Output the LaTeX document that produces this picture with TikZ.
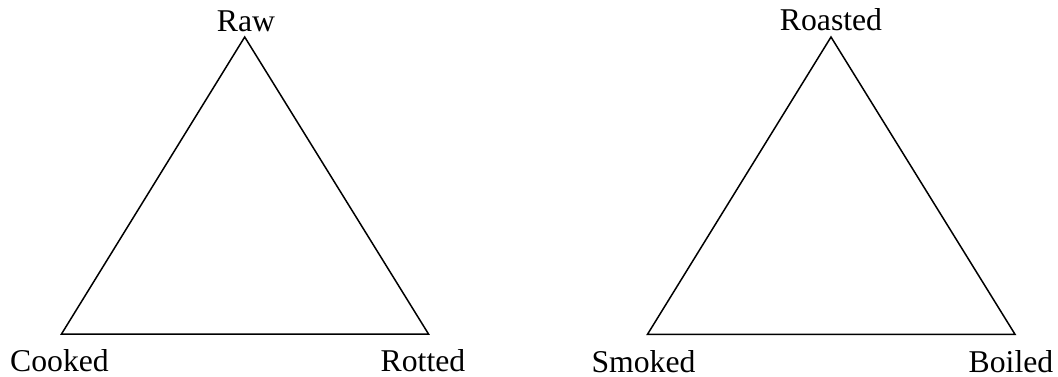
\documentclass[tikz,border=0pt]{standalone}
\usepackage{fontspec}
\setmainfont{Liberation Serif}
\begin{document}
\begin{tikzpicture}[x=1pt,y=-1pt,
  tri/.style={draw=black,line width=1.5pt,line join=miter},
  lbl/.style={anchor=base,inner sep=0pt,font=\fontsize{31.7}{38}\selectfont}]
\useasboundingbox (0,0) rectangle (1058,377);
% left triangle
\coordinate (rawc) at (244.7,37);
\coordinate (cookedc) at (61.5,334);
\coordinate (rottedc) at (428.5,334);
\draw[tri] (rawc) -- (cookedc) -- (rottedc) -- cycle;
\node[lbl] (raw) at (246,31.5) {Raw};
\node[lbl] (cooked) at (59.5,371) {Cooked};
\node[lbl] (rotted) at (423,371) {Rotted};
% right triangle
\coordinate (roastedc) at (831,37);
\coordinate (smokedc) at (647.5,334.3);
\coordinate (boiledc) at (1015,334.3);
\draw[tri] (roastedc) -- (smokedc) -- (boiledc) -- cycle;
\node[lbl] (roasted) at (831,31) {Roasted};
\node[lbl] (smoked) at (643.5,372) {Smoked};
\node[lbl] (boiled) at (1011,372) {Boiled};
\end{tikzpicture}
\end{document}
